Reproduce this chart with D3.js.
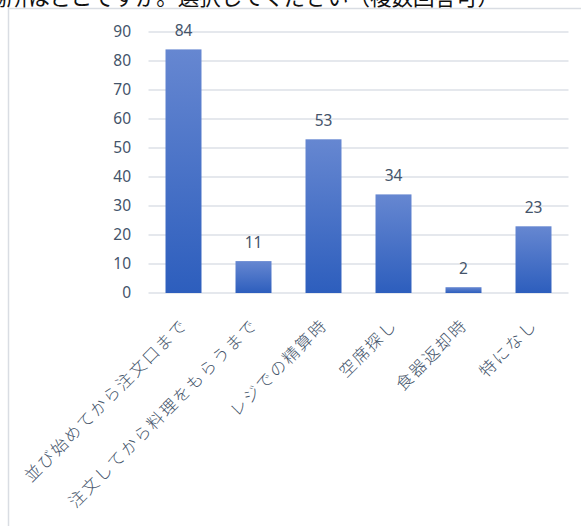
<!DOCTYPE html>
<html>
<head>
<meta charset="utf-8">
<script src="https://cdn.jsdelivr.net/npm/d3@7"></script>
<style>
  body { margin: 0; background: #fff; }
  svg { display: block; font-family: "Noto Sans", "Noto Sans CJK JP", sans-serif; }
</style>
</head>
<body>
<svg id="chart"></svg>
<script>
var screen = {width: 581, height: 526};
var margins = {top: 32, left: 148.5, right: 12.5, bottom: 233};

// data
var titleText = "場所はどこですか。選択してください（複数回答可）";
var categories = ["並び始めてから注文口まで", "注文してから料理をもらうまで", "レジでの精算時", "空席探し", "食器返却時", "特になし"];
var counts = [84, 11, 53, 34, 2, 23];
var yTicks = [0, 10, 20, 30, 40, 50, 60, 70, 80, 90];

var svg = d3.select("#chart")
    .attr("width", screen.width)
    .attr("height", screen.height);

var defs = svg.append("defs");
var grad = defs.append("linearGradient")
    .attr("id", "barFill")
    .attr("x1", 0).attr("y1", 0)
    .attr("x2", 0).attr("y2", 1);
grad.append("stop").attr("offset", "0%").attr("stop-color", "#6687d1");
grad.append("stop").attr("offset", "100%").attr("stop-color", "#2d5ebd");

// chart frame (cut by the window on the right and bottom)
svg.append("rect")
    .attr("x", 8.5).attr("y", 8.5)
    .attr("width", 700).attr("height", 700)
    .attr("fill", "none")
    .attr("stroke", "#d9dde3")
    .attr("stroke-width", 1.5);

// title, mostly outside the frame at the top (cut in the reference too)
svg.append("text")
    .attr("x", 499)
    .attr("y", 5)
    .attr("text-anchor", "end")
    .attr("font-family", "'Noto Sans CJK JP', sans-serif")
    .attr("font-size", "21.5px")
    .attr("fill", "#111")
    .text(titleText);

var xScale = d3.scaleBand()
    .domain(categories)
    .range([margins.left, margins.left + 420])
    .paddingInner(0.486)
    .paddingOuter(0.243);

var yScale = d3.scaleLinear()
    .domain([0, 90])
    .range([293, 32]);

// gridlines
svg.append("g")
    .selectAll("line")
    .data(yTicks)
    .enter()
    .append("line")
    .attr("x1", margins.left)
    .attr("x2", margins.left + 420)
    .attr("y1", function(d) { return yScale(d); })
    .attr("y2", function(d) { return yScale(d); })
    .attr("stroke", "#dde1e7")
    .attr("stroke-width", 1.5);

// y axis labels
var yAxis = d3.axisLeft(yScale)
    .tickValues(yTicks)
    .tickSize(0)
    .tickPadding(0);

svg.append("g")
    .attr("transform", "translate(131,0)")
    .call(yAxis)
    .call(function(g) { g.select(".domain").remove(); })
    .selectAll("text")
    .attr("font-family", "'Noto Sans', sans-serif")
    .attr("font-size", "15.5px")
    .attr("fill", "#44546a");

// bars
svg.append("g")
    .selectAll("rect")
    .data(counts)
    .enter()
    .append("rect")
    .attr("x", function(d, i) { return xScale(categories[i]); })
    .attr("y", function(d) { return yScale(d); })
    .attr("width", xScale.bandwidth())
    .attr("height", function(d) { return yScale(0) - yScale(d); })
    .attr("fill", "url(#barFill)");

// value labels
svg.append("g")
    .selectAll("text")
    .data(counts)
    .enter()
    .append("text")
    .attr("x", function(d, i) { return xScale(categories[i]) + xScale.bandwidth() / 2; })
    .attr("y", function(d) { return yScale(d) - 13; })
    .attr("text-anchor", "middle")
    .attr("font-family", "'Noto Sans', sans-serif")
    .attr("font-size", "15.5px")
    .attr("fill", "#44546a")
    .text(function(d) { return d; });

// category labels, rotated
svg.append("g")
    .selectAll("text")
    .data(categories)
    .enter()
    .append("text")
    .attr("transform", function(d) {
        var cx = xScale(d) + xScale.bandwidth() / 2;
        return "translate(" + (cx + 5) + ",326) rotate(-45)";
    })
    .attr("text-anchor", "end")
    .attr("font-family", "'Noto Sans CJK JP', sans-serif")
    .attr("font-size", "16.5px")
    .attr("font-weight", 300)
    .attr("letter-spacing", "2px")
    .attr("fill", "#44546a")
    .text(function(d) { return d; });
</script>
</body>
</html>
